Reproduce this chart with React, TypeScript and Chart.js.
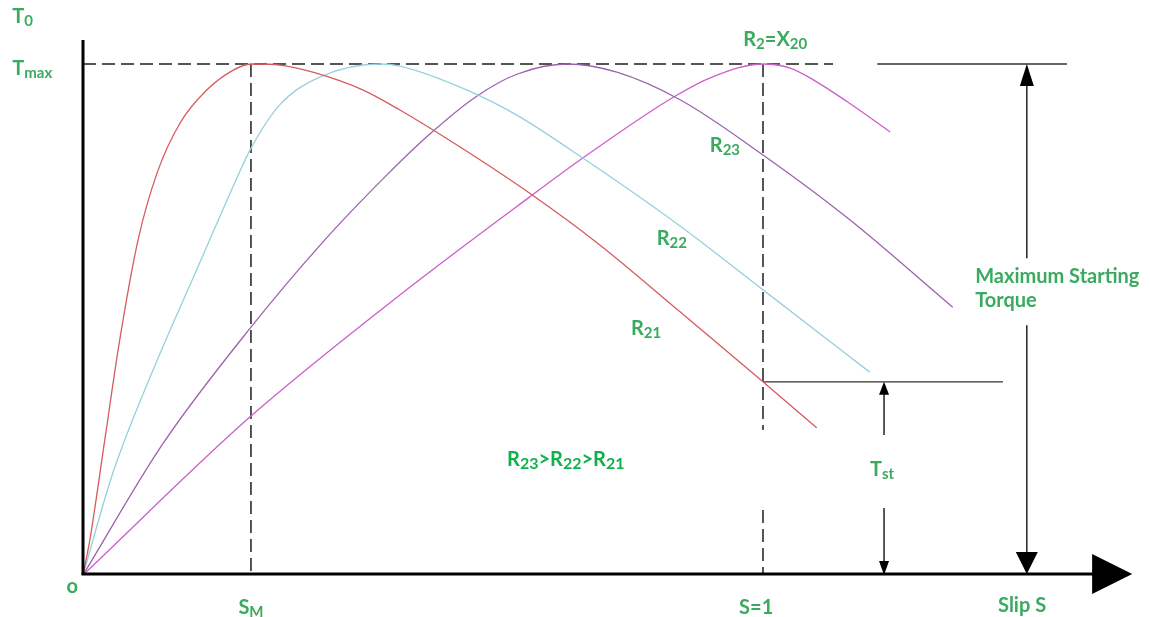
import React, { useEffect, useRef } from "react";
import { Chart, registerables } from "chart.js";

Chart.register(...registerables);

// Torque-slip characteristics of an induction motor for increasing rotor resistance.
// Slip: 0 = synchronous speed, 1 = standstill. Torque as a fraction of Tmax.
const slipR21 = [0, 0.01, 0.032, 0.054, 0.081, 0.109, 0.143, 0.182, 0.221, 0.247, 0.29, 0.338, 0.412, 0.466, 0.554, 0.657, 0.76, 0.878, 1.0, 1.079];
const torqueR21 = [0, 0.068, 0.264, 0.46, 0.656, 0.787, 0.885, 0.949, 0.988, 1.0, 0.998, 0.984, 0.949, 0.91, 0.838, 0.747, 0.646, 0.515, 0.378, 0.288];

const slipR22 = [0, 0.044, 0.103, 0.172, 0.212, 0.247, 0.29, 0.349, 0.437, 0.466, 0.565, 0.638, 0.735, 0.878, 1.0, 1.157];
const torqueR22 = [0, 0.2, 0.401, 0.612, 0.734, 0.835, 0.921, 0.975, 1.0, 0.996, 0.949, 0.9, 0.816, 0.683, 0.558, 0.397];

const slipR23 = [0, 0.118, 0.247, 0.353, 0.447, 0.51, 0.579, 0.638, 0.712, 0.785, 0.878, 1.0, 1.124, 1.279];
const torqueR23 = [0, 0.258, 0.485, 0.652, 0.783, 0.863, 0.937, 0.98, 1.0, 0.984, 0.93, 0.822, 0.699, 0.524];

const slipX20 = [0, 0.247, 0.466, 0.657, 0.735, 0.868, 0.926, 1.0, 1.04, 1.074, 1.124, 1.187];
const torqueX20 = [0, 0.311, 0.548, 0.74, 0.816, 0.935, 0.975, 1.0, 0.992, 0.969, 0.926, 0.867];

// Text pieces: [text, isSubscript]
type Part = [string, boolean];
const labelT0: Part[] = [["T", false], ["0", true]];
const labelTmax: Part[] = [["T", false], ["max", true]];
const labelOrigin: Part[] = [["o", false]];
const labelSM: Part[] = [["S", false], ["M", true]];
const labelS1: Part[] = [["S=1", false]];
const labelSlip: Part[] = [["Slip S", false]];
const labelX20: Part[] = [["R", false], ["2", true], ["=X", false], ["20", true]];
const labelR23: Part[] = [["R", false], ["23", true]];
const labelR22: Part[] = [["R", false], ["22", true]];
const labelR21: Part[] = [["R", false], ["21", true]];
const labelOrder: Part[] = [["R", false], ["23", true], [">R", false], ["22", true], [">R", false], ["21", true]];
const labelTst: Part[] = [["T", false], ["st", true]];
const labelMaxLine1: Part[] = [["Maximum Starting", false]];
const labelMaxLine2: Part[] = [["Torque", false]];

const FONT = 'Lato, "Open Sans", sans-serif';
const GREEN = "#3aab5e";
const GREEN_STRONG = "#12b04d";

// slip at which R21 reaches Tmax, and R21 torque at standstill
const sM = slipR21[torqueR21.indexOf(Math.max(...torqueR21))];
const tStart = torqueR21[slipR21.indexOf(1)];

function drawRich(
  ctx: CanvasRenderingContext2D,
  parts: Part[],
  x: number,
  baseline: number,
  align: "left" | "center",
  color: string,
  size = 20,
  subSize = 15
) {
  const main = `bold ${size}px ${FONT}`;
  const sub = `bold ${subSize}px ${FONT}`;
  let w = 0;
  for (const [t, s] of parts) {
    ctx.font = s ? sub : main;
    w += ctx.measureText(t).width;
  }
  let cx = align === "center" ? x - w / 2 : x;
  ctx.fillStyle = color;
  ctx.textAlign = "left";
  ctx.textBaseline = "alphabetic";
  for (const [t, s] of parts) {
    ctx.font = s ? sub : main;
    ctx.fillText(t, cx, baseline + (s ? 2.5 : 0));
    cx += ctx.measureText(t).width;
  }
}

function seg(ctx: CanvasRenderingContext2D, x1: number, y1: number, x2: number, y2: number) {
  ctx.beginPath();
  ctx.moveTo(x1, y1);
  ctx.lineTo(x2, y2);
  ctx.stroke();
}

function head(ctx: CanvasRenderingContext2D, x: number, tipY: number, dir: number, halfW: number, len: number) {
  ctx.beginPath();
  ctx.moveTo(x, tipY);
  ctx.lineTo(x - halfW, tipY - dir * len);
  ctx.lineTo(x + halfW, tipY - dir * len);
  ctx.closePath();
  ctx.fill();
}

const diagramPlugin = {
  id: "torqueSlipDiagram",
  beforeDatasetsDraw(chart: any) {
    const { ctx, scales } = chart;
    const X = (v: number) => scales.x.getPixelForValue(v);
    const Y = (v: number) => scales.y.getPixelForValue(v);
    ctx.save();
    ctx.strokeStyle = "#1e1e1e";
    ctx.lineWidth = 1.5;
    ctx.setLineDash([13, 6]);
    // Tmax level
    seg(ctx, X(0), Y(1), X(1.103), Y(1));
    // slip for maximum torque
    seg(ctx, X(sM), Y(1), X(sM), Y(0));
    // standstill (s = 1)
    seg(ctx, X(1), Y(1), X(1), Y(0.284));
    seg(ctx, X(1), Y(0.127), X(1), Y(0));
    ctx.setLineDash([]);

    // solid reference levels
    ctx.strokeStyle = "#333";
    ctx.lineWidth = 1.3;
    seg(ctx, X(1.168), Y(1), X(1.447), Y(1));
    seg(ctx, X(1), Y(tStart), X(1.353), Y(tStart));
    ctx.restore();
  },
  afterDatasetsDraw(chart: any) {
    const { ctx, scales } = chart;
    const X = (v: number) => scales.x.getPixelForValue(v);
    const Y = (v: number) => scales.y.getPixelForValue(v);
    ctx.save();

    // axes
    ctx.strokeStyle = "#000";
    ctx.fillStyle = "#000";
    ctx.lineWidth = 3;
    seg(ctx, X(0), Y(1.047), X(0), Y(0));
    seg(ctx, X(0) - 1.5, Y(0) - 1, X(1.49), Y(0) - 1);
    ctx.beginPath();
    ctx.moveTo(X(1.484), Y(0) - 21);
    ctx.lineTo(X(1.543), Y(0) - 1);
    ctx.lineTo(X(1.484), Y(0) + 19);
    ctx.closePath();
    ctx.fill();

    // starting torque arrow
    ctx.lineWidth = 1.3;
    const xa = X(1.178);
    seg(ctx, xa, Y(tStart) + 12, xa, Y(0.274));
    head(ctx, xa, Y(tStart), -1, 5, 13);
    seg(ctx, xa, Y(0.131), xa, Y(0) - 13);
    head(ctx, xa, Y(0), 1, 5, 14);

    // maximum starting torque arrow
    const xb = X(1.388);
    seg(ctx, xb, Y(1) + 20, xb, Y(0.62));
    head(ctx, xb, Y(1), -1, 7, 22);
    seg(ctx, xb, Y(0.489), xb, Y(0) - 20);
    head(ctx, xb, Y(0) - 1, 1, 11, 22);

    // labels
    drawRich(ctx, labelT0, X(-0.104), 23, "left", GREEN);
    drawRich(ctx, labelTmax, X(-0.104), 75, "left", GREEN);
    drawRich(ctx, labelOrigin, X(-0.016), 593, "center", GREEN);
    drawRich(ctx, labelSM, X(sM), 614, "center", GREEN);
    drawRich(ctx, labelS1, X(0.99), 614, "center", GREEN);
    drawRich(ctx, labelSlip, X(1.381), 612, "center", GREEN);
    drawRich(ctx, labelX20, X(1.018), 46, "center", GREEN);
    drawRich(ctx, labelR23, X(0.944), 152, "center", GREEN);
    drawRich(ctx, labelR22, X(0.866), 245, "center", GREEN);
    drawRich(ctx, labelR21, X(0.828), 335, "center", GREEN);
    drawRich(ctx, labelOrder, X(0.71), 466, "center", GREEN_STRONG, 20, 16);
    drawRich(ctx, labelTst, X(1.175), 476, "center", GREEN);
    drawRich(ctx, labelMaxLine1, X(1.312), 283, "left", GREEN);
    drawRich(ctx, labelMaxLine2, X(1.312), 307, "left", GREEN);

    ctx.restore();
  },
};

function toPoints(s: number[], t: number[]) {
  return s.map((v, i) => ({ x: v, y: t[i] }));
}

export default function App() {
  const canvasRef = useRef<HTMLCanvasElement | null>(null);

  useEffect(() => {
    document.body.style.margin = "0";
    const canvas = canvasRef.current;
    if (!canvas) return;
    const curve = (label: string, s: number[], t: number[], color: string) => ({
      label,
      data: toPoints(s, t),
      borderColor: color,
      borderWidth: 1.3,
      pointRadius: 0,
      fill: false,
      cubicInterpolationMode: "monotone" as const,
    });
    const chart = new Chart(canvas, {
      type: "line",
      data: {
        datasets: [
          curve("R21", slipR21, torqueR21, "#d65a5e"),
          curve("R22", slipR22, torqueR22, "#96d0de"),
          curve("R23", slipR23, torqueR23, "#9d62ad"),
          curve("R2=X20", slipX20, torqueX20, "#cb5fcb"),
        ],
      },
      options: {
        responsive: false,
        animation: false,
        devicePixelRatio: 1,
        events: [],
        layout: {
          autoPadding: false,
          padding: { left: 83, right: 47, top: 40, bottom: 42 },
        },
        scales: {
          x: { type: "linear", min: 0, max: 1.5, display: false },
          y: { type: "linear", min: 0, max: 1.047, display: false },
        },
        plugins: {
          legend: { display: false },
          tooltip: { enabled: false },
        },
      },
      plugins: [diagramPlugin],
    });
    return () => chart.destroy();
  }, []);

  return (
    <div style={{ width: 1150, height: 617, background: "#fff" }}>
      <canvas ref={canvasRef} width={1150} height={617} />
    </div>
  );
}
